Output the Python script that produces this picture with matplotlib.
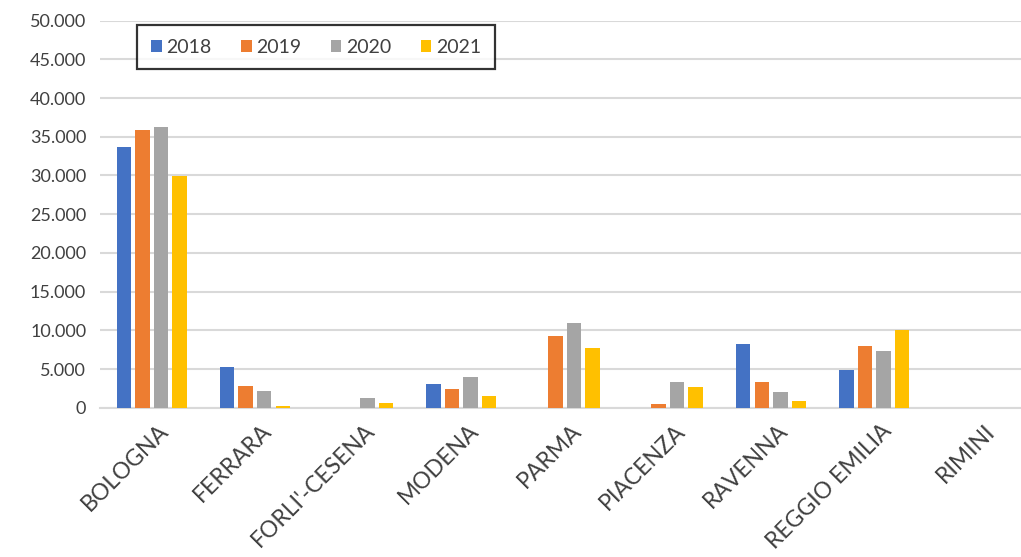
import numpy as np
import matplotlib.pyplot as plt
from matplotlib.ticker import FuncFormatter

# Data
provinces = ["BOLOGNA", "FERRARA", "FORLI'-CESENA", "MODENA", "PARMA",
             "PIACENZA", "RAVENNA", "REGGIO EMILIA", "RIMINI"]
years = ["2018", "2019", "2020", "2021"]
v2018 = [33700, 5300, 0, 3000, 0, 0, 8200, 4900, 0]
v2019 = [35900, 2800, 0, 2400, 9300, 500, 3300, 8000, 0]
v2020 = [36200, 2200, 1300, 4000, 11000, 3350, 2000, 7350, 0]
v2021 = [29900, 200, 650, 1500, 7700, 2700, 900, 10000, 0]
colors = ["#4472C4", "#ED7D31", "#A5A5A5", "#FFC000"]

plt.rcParams["font.family"] = ["Lato", "DejaVu Sans"]

fig = plt.figure(figsize=(10.21, 5.57), dpi=100)
ax = fig.add_axes([0.098, 0.268, 0.91, 0.695])

x = np.arange(len(provinces))
step = 0.18
width = 0.14
for i, (vals, yr) in enumerate(zip([v2018, v2019, v2020, v2021], years)):
    ax.bar(x + (i - 1.5) * step, vals, width, color=colors[i], label=yr, zorder=3)

ax.set_ylim(0, 50000)
ax.set_yticks(np.arange(0, 50001, 5000))
ax.yaxis.set_major_formatter(FuncFormatter(lambda v, p: f"{int(v):,}".replace(",", ".")))
ax.set_xlim(-0.5, len(provinces) - 0.5)
ax.set_xticks(x + 0.06)
ax.set_xticklabels(provinces, rotation=45, ha="right", rotation_mode="anchor")

ax.grid(axis="y", color="#D9D9D9", linewidth=1.5, zorder=0)
for s in ["top", "right", "left"]:
    ax.spines[s].set_visible(False)
ax.spines["bottom"].set_color("#D9D9D9")
ax.spines["bottom"].set_linewidth(1.5)
ax.tick_params(axis="y", length=0, labelsize=13, colors="#404040", pad=10)
ax.tick_params(axis="x", length=0, labelsize=16.5, colors="#404040", pad=9)

leg = ax.legend(loc="upper left", bbox_to_anchor=(0.04, 0.988), ncol=4, fontsize=14,
                frameon=True, fancybox=False, edgecolor="black", handlelength=0.55,
                handleheight=0.55, handletextpad=0.25, columnspacing=1.5,
                borderpad=0.7, borderaxespad=0, labelcolor="#404040")
leg.get_frame().set_linewidth(1.6)

fig.savefig("out.png", dpi=100)
